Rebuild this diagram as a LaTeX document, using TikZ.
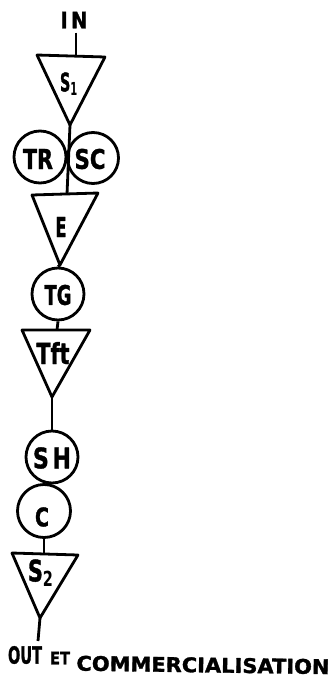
\documentclass[tikz,border=0pt]{standalone}
\usepackage{fontspec}
\setmainfont{DejaVu Sans}
\newfontfamily\heavyfont[FakeBold=1.5]{DejaVu Sans Bold}
\newcommand{\fitlbl}[3]{\resizebox{#1}{#2}{\heavyfont #3}}
\begin{document}
\begin{tikzpicture}[x=1pt,y=-1pt,
  line width=2.8pt, line join=round,
  stage/.style={circle, draw, line width=2.8pt, inner sep=0pt},
  lbl/.style={inner sep=0pt, anchor=center}]
\useasboundingbox (0,0) rectangle (333,685);
% triangle corners
\coordinate (s1l) at (37,55); \coordinate (s1r) at (105,57); \coordinate (s1a) at (70,125); \coordinate (s1t) at (76,56);
\coordinate (el) at (32,195); \coordinate (er) at (98,193); \coordinate (ea) at (60,265); \coordinate (et) at (67,194);
\coordinate (tfl) at (22,330); \coordinate (tfr) at (90,330); \coordinate (tfa) at (52,397); \coordinate (tft) at (57,330);
\coordinate (s2l) at (12,553); \coordinate (s2r) at (78,555); \coordinate (s2a) at (40,618); \coordinate (s2t) at (44,554);
\coordinate (outend) at (38,641);
% triangles
\draw (s1l) -- (s1r) -- (s1a) -- cycle;
\draw (el) -- (er) -- (ea) -- cycle;
\draw (tfl) -- (tfr) -- (tfa) -- cycle;
\draw (s2l) -- (s2r) -- (s2a) -- cycle;
% circles
\node[stage, minimum size=52pt] (tr) at (40,157) {};
\node[stage, minimum size=51pt] (sc) at (93,158) {};
\node[stage, minimum size=52pt] (tg) at (58,294) {};
\node[stage, minimum size=52pt] (sh) at (52,457) {};
\node[stage, minimum size=53pt] (c) at (44,511) {};
% texts
\node[lbl] (in) at (74,20) {\fitlbl{27pt}{16.5pt}{I\,N}};
\node[lbl] (s1lbl) at (69,84) {\fitlbl{18pt}{19pt}{S$_{\mathbf 1}$}};
\node[lbl] (trlbl) at (38,159) {\fitlbl{30pt}{20pt}{TR}};
\node[lbl] (sclbl) at (90,159) {\fitlbl{31pt}{20pt}{SC}};
\node[lbl] (elbl) at (61,227) {\fitlbl{11pt}{20pt}{E}};
\node[lbl] (tglbl) at (58,295) {\fitlbl{27pt}{20pt}{TG}};
\node[lbl] (tftlbl) at (53,353) {\fitlbl{33pt}{22pt}{Tft}};
\node[lbl] (shlbl) at (52,458) {\fitlbl{38pt}{21pt}{S\,H}};
\node[lbl] (clbl) at (42,517) {\fitlbl{14pt}{19pt}{C}};
\node[lbl] (s2lbl) at (41,573) {\fitlbl{26pt}{22pt}{S$_{\mathbf 2}$}};
\node[lbl] (out) at (25,655) {\fitlbl{34pt}{17.5pt}{OUT}};
\node[lbl] (etlbl) at (60,658) {\fitlbl{20pt}{12.5pt}{ET}};
\node[lbl, rotate=-0.8] (comm) at (203,665) {\fitlbl{253pt}{15pt}{COMMERCIALISATION}};
% connectors
\draw (in.south -| s1t) ++(0,3) -- (s1t);
\draw (s1a) -- (et);
\draw (ea) -- (tg.north);
\draw (tg.south) -- (tft);
\draw (tfa) -- (sh.north);
\draw (c.south) -- (s2t);
\draw (s2a) -- (outend);
\end{tikzpicture}
\end{document}
